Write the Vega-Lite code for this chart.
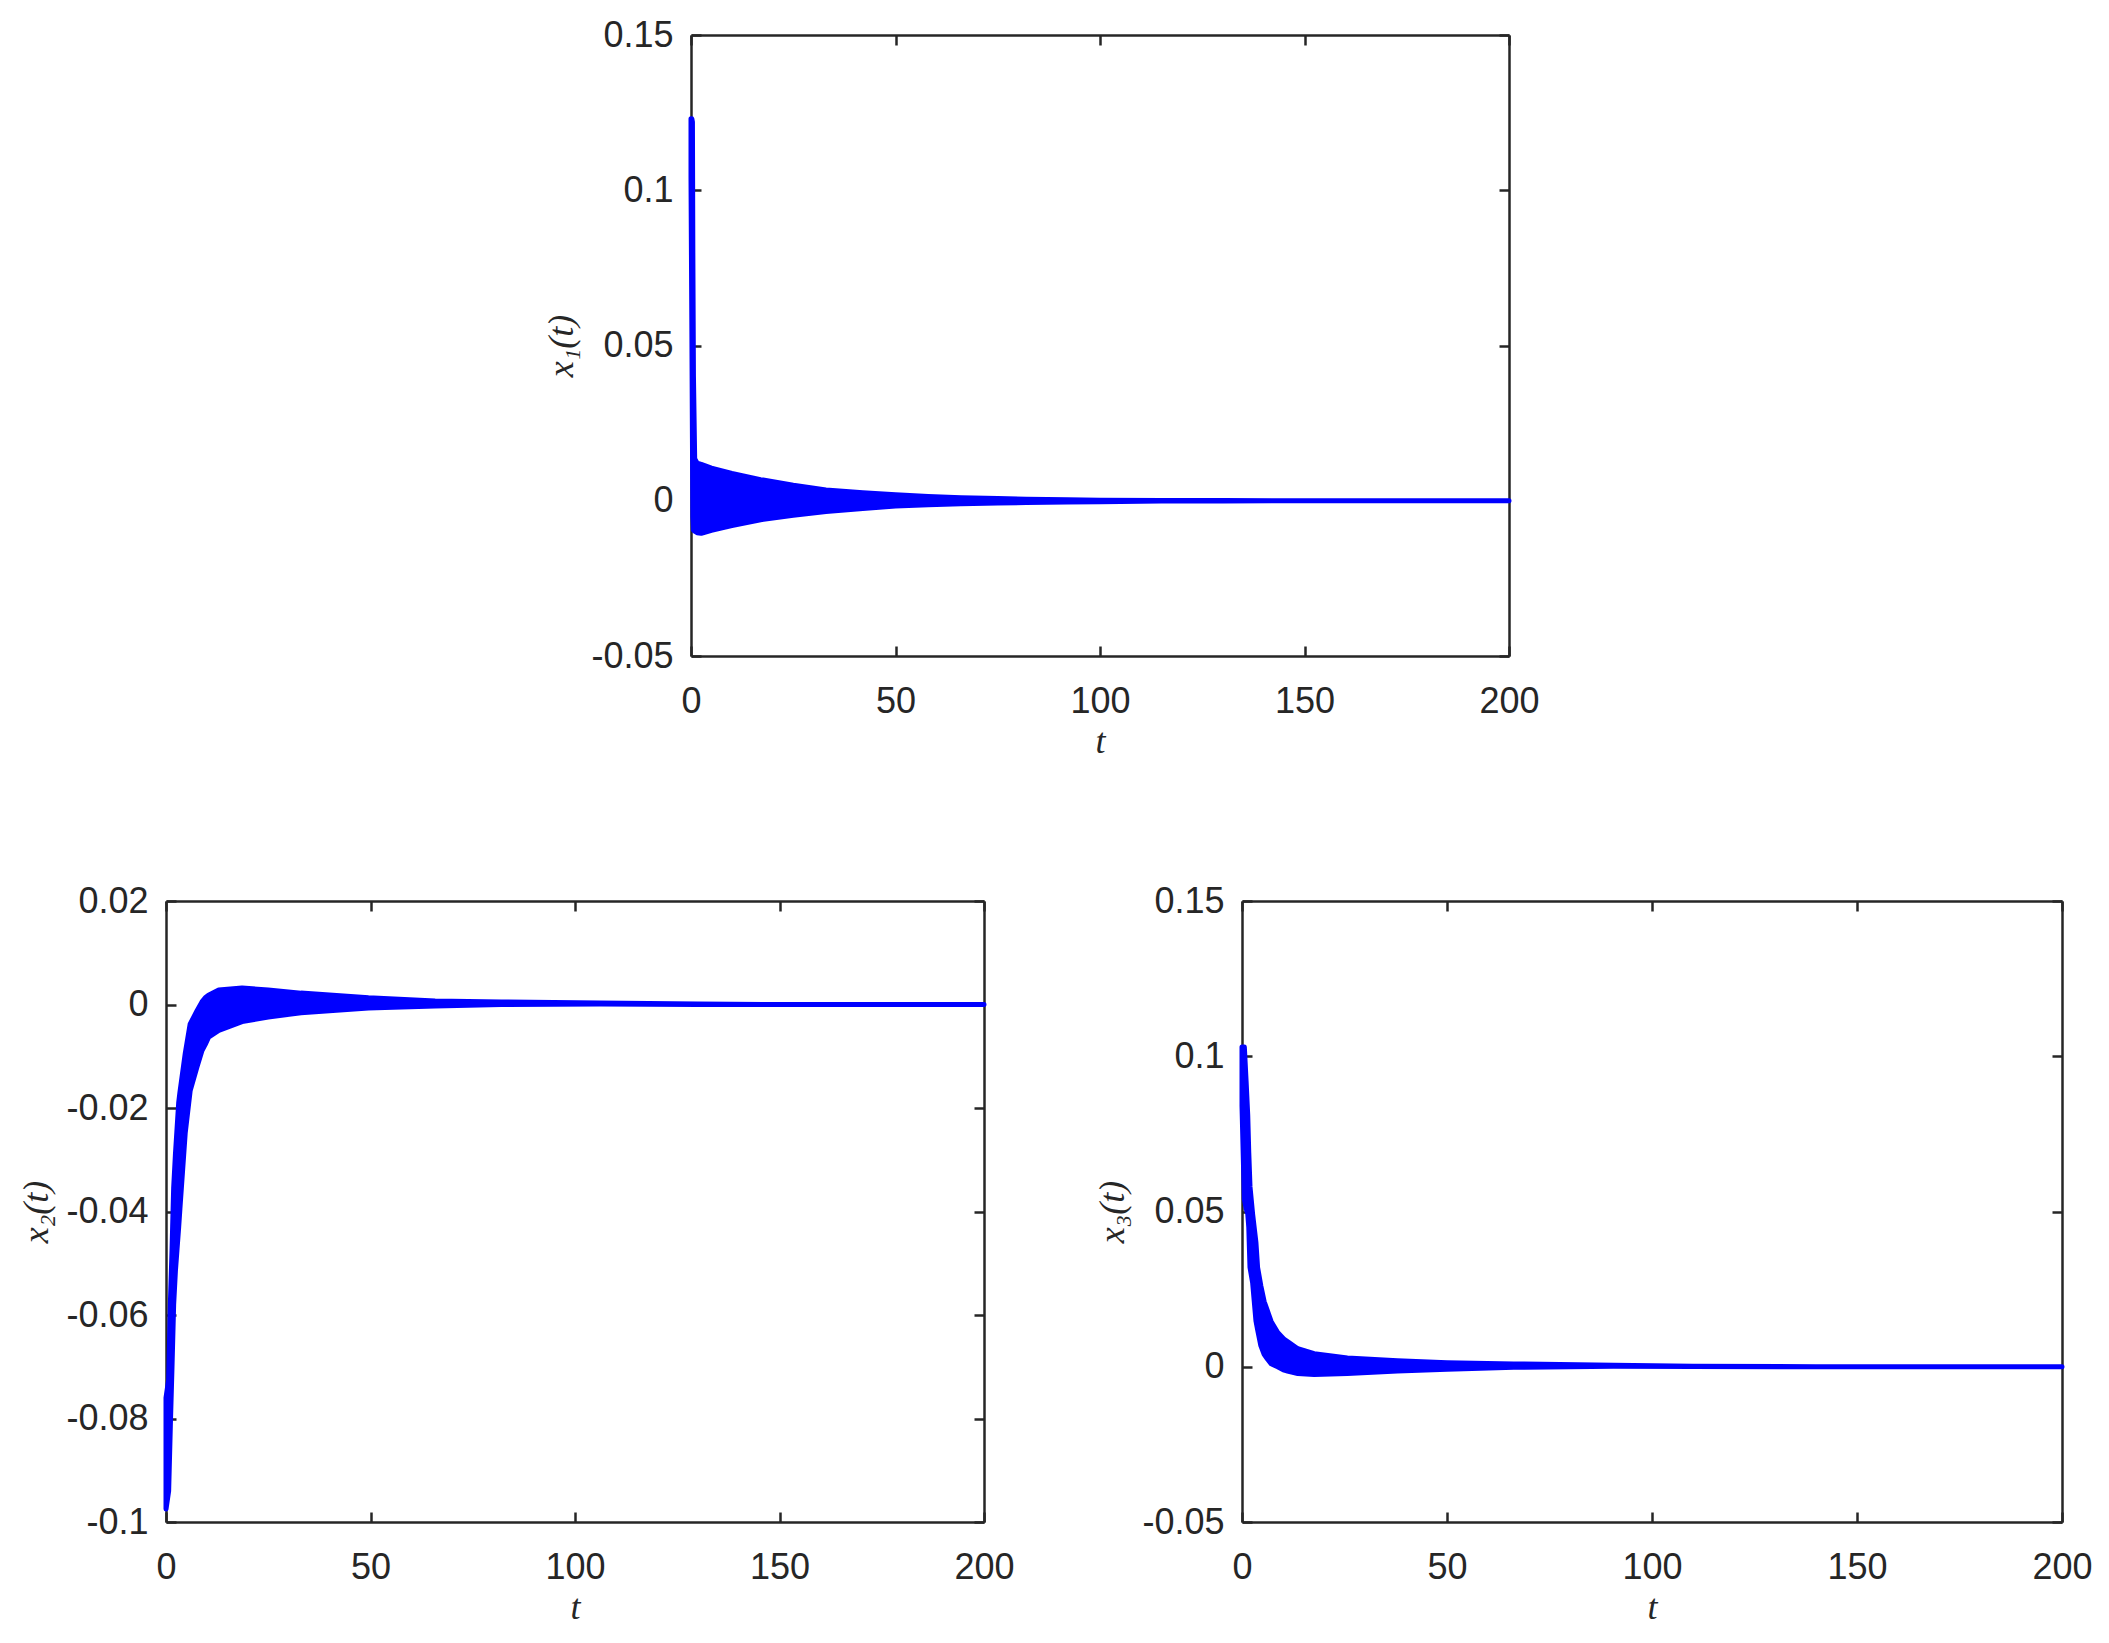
{
  "$schema": "https://vega.github.io/schema/vega-lite/v6.json",
  "background": "white",
  "padding": {"left": 18, "top": 17, "right": 0, "bottom": 0},
  "datasets": {
    "x1": [
      {"t": 0, "hi": 0.123, "lo": 0.104},
      {"t": 0.2, "hi": 0.123, "lo": 0.058},
      {"t": 0.35, "hi": 0.122, "lo": 0.02},
      {"t": 0.45, "hi": 0.08, "lo": -0.005},
      {"t": 0.6, "hi": 0.04, "lo": -0.0095},
      {"t": 0.9, "hi": 0.0135, "lo": -0.0098},
      {"t": 1.5, "hi": 0.0121, "lo": -0.0103},
      {"t": 2.5, "hi": 0.0117, "lo": -0.0105},
      {"t": 5, "hi": 0.0105, "lo": -0.0095},
      {"t": 10, "hi": 0.0088, "lo": -0.008},
      {"t": 17, "hi": 0.0068, "lo": -0.0061},
      {"t": 25, "hi": 0.005, "lo": -0.0047},
      {"t": 33, "hi": 0.0035, "lo": -0.0035},
      {"t": 42, "hi": 0.0026, "lo": -0.0025},
      {"t": 50, "hi": 0.0019, "lo": -0.0017},
      {"t": 58, "hi": 0.0014, "lo": -0.0013},
      {"t": 66, "hi": 0.001, "lo": -0.001},
      {"t": 75, "hi": 0.0007, "lo": -0.0007},
      {"t": 82, "hi": 0.0005, "lo": -0.0006},
      {"t": 92, "hi": 0.0003, "lo": -0.0004},
      {"t": 100, "hi": 0.0002, "lo": -0.0003},
      {"t": 115, "hi": 0.0001, "lo": -0.0001},
      {"t": 130, "hi": 0.00005, "lo": -0.00005},
      {"t": 150, "hi": 0, "lo": 0},
      {"t": 200, "hi": 0, "lo": 0}
    ],
    "x2": [
      {"t": 0, "hi": -0.076, "lo": -0.0975},
      {"t": 0.65, "hi": -0.0725, "lo": -0.094},
      {"t": 1.06, "hi": -0.058, "lo": -0.0815},
      {"t": 1.47, "hi": -0.0475, "lo": -0.07},
      {"t": 1.87, "hi": -0.0355, "lo": -0.058},
      {"t": 2.3, "hi": -0.029, "lo": -0.0515},
      {"t": 3.1, "hi": -0.019, "lo": -0.043},
      {"t": 3.4, "hi": -0.017, "lo": -0.0395},
      {"t": 4.7, "hi": -0.0095, "lo": -0.0248},
      {"t": 5.9, "hi": -0.0038, "lo": -0.0167},
      {"t": 7.6, "hi": -0.0012, "lo": -0.012},
      {"t": 8.8, "hi": 0.0005, "lo": -0.0089},
      {"t": 9.6, "hi": 0.0013, "lo": -0.0077},
      {"t": 10.4, "hi": 0.0018, "lo": -0.0063},
      {"t": 12.9, "hi": 0.0028, "lo": -0.005},
      {"t": 18.6, "hi": 0.0032, "lo": -0.0033},
      {"t": 25, "hi": 0.0028, "lo": -0.0024},
      {"t": 33, "hi": 0.0022, "lo": -0.0016},
      {"t": 49.5, "hi": 0.0013, "lo": -0.0007},
      {"t": 65.8, "hi": 0.0007, "lo": -0.0003},
      {"t": 82, "hi": 0.0005, "lo": 0},
      {"t": 106, "hi": 0.0003, "lo": 0.0001},
      {"t": 130, "hi": 0.0001, "lo": 0},
      {"t": 150, "hi": 0, "lo": 0},
      {"t": 200, "hi": 0, "lo": 0}
    ],
    "x3": [
      {"t": 0, "hi": 0.103, "lo": 0.084},
      {"t": 0.57, "hi": 0.103, "lo": 0.054},
      {"t": 1.0, "hi": 0.092, "lo": 0.051},
      {"t": 1.4, "hi": 0.081, "lo": 0.0493},
      {"t": 1.65, "hi": 0.069, "lo": 0.045},
      {"t": 1.95, "hi": 0.058, "lo": 0.032},
      {"t": 2.6, "hi": 0.049, "lo": 0.027},
      {"t": 3.4, "hi": 0.04, "lo": 0.0148},
      {"t": 3.8, "hi": 0.032, "lo": 0.012},
      {"t": 4.6, "hi": 0.026, "lo": 0.0068},
      {"t": 5.4, "hi": 0.021, "lo": 0.004},
      {"t": 6.2, "hi": 0.018, "lo": 0.0025},
      {"t": 7.1, "hi": 0.0146, "lo": 0.001},
      {"t": 8.7, "hi": 0.011, "lo": 0},
      {"t": 10.3, "hi": 0.0088, "lo": -0.0011},
      {"t": 11.1, "hi": 0.0081, "lo": -0.0014},
      {"t": 13.6, "hi": 0.0058, "lo": -0.0022},
      {"t": 17.6, "hi": 0.0042, "lo": -0.0025},
      {"t": 25.7, "hi": 0.0028, "lo": -0.0022},
      {"t": 37.9, "hi": 0.0019, "lo": -0.0014},
      {"t": 50, "hi": 0.0013, "lo": -0.0008},
      {"t": 66.3, "hi": 0.0009, "lo": -0.0002},
      {"t": 90.6, "hi": 0.0005, "lo": 0.0002},
      {"t": 110, "hi": 0.0002, "lo": 0.0001},
      {"t": 140, "hi": 0, "lo": 0},
      {"t": 200, "hi": 0, "lo": 0}
    ]
  },
  "spacing": 124,
  "vconcat": [
    {
      "bounds": "flush",
      "spacing": 0,
      "hconcat": [
        {"width": 525, "height": 1, "data": {"values": []}, "mark": "point"},
        {
          "width": 818, "height": 621,
          "data": {"name": "x1"},
          "layer": [
            {
              "mark": {"type": "area", "color": "#0000ff", "stroke": "#0000ff", "strokeWidth": 5, "strokeJoin": "round"},
              "encoding": {
                "x": {"field": "t", "type": "quantitative", "scale": {"domain": [0, 200], "nice": false, "zero": false}, "axis": {"orient": "bottom", "values": [0, 50, 100, 150, 200], "title": "t", "labelFlush": false}},
                "y": {"field": "hi", "type": "quantitative", "scale": {"domain": [-0.05, 0.15], "nice": false, "zero": false}, "axis": {"orient": "left", "values": [-0.05, 0, 0.05, 0.1, 0.15], "labelExpr": "'' + datum.value", "title": "x₁(t)"}},
                "y2": {"field": "lo"}
              }
            },
            {
              "mark": {"type": "area", "opacity": 0},
              "encoding": {
                "x": {"field": "t", "type": "quantitative", "axis": {"orient": "top", "values": [0, 50, 100, 150, 200], "labels": false, "title": null}},
                "y": {"field": "hi", "type": "quantitative", "axis": {"orient": "right", "values": [-0.05, 0, 0.05, 0.1, 0.15], "labels": false, "title": null}},
                "y2": {"field": "lo"}
              }
            }
          ],
          "resolve": {"axis": {"x": "independent", "y": "independent"}}
        }
      ]
    },
    {
      "bounds": "flush",
      "spacing": 258,
      "hconcat": [
        {
          "width": 818, "height": 621,
          "data": {"name": "x2"},
          "layer": [
            {
              "mark": {"type": "area", "color": "#0000ff", "stroke": "#0000ff", "strokeWidth": 5, "strokeJoin": "round"},
              "encoding": {
                "x": {"field": "t", "type": "quantitative", "scale": {"domain": [0, 200], "nice": false, "zero": false}, "axis": {"orient": "bottom", "values": [0, 50, 100, 150, 200], "title": "t", "labelFlush": false}},
                "y": {"field": "hi", "type": "quantitative", "scale": {"domain": [-0.1, 0.02], "nice": false, "zero": false}, "axis": {"orient": "left", "values": [-0.1, -0.08, -0.06, -0.04, -0.02, 0, 0.02], "labelExpr": "'' + datum.value", "title": "x₂(t)"}},
                "y2": {"field": "lo"}
              }
            },
            {
              "mark": {"type": "area", "opacity": 0},
              "encoding": {
                "x": {"field": "t", "type": "quantitative", "axis": {"orient": "top", "values": [0, 50, 100, 150, 200], "labels": false, "title": null}},
                "y": {"field": "hi", "type": "quantitative", "axis": {"orient": "right", "values": [-0.1, -0.08, -0.06, -0.04, -0.02, 0, 0.02], "labels": false, "title": null}},
                "y2": {"field": "lo"}
              }
            }
          ],
          "resolve": {"axis": {"x": "independent", "y": "independent"}}
        },
        {
          "width": 820, "height": 621,
          "data": {"name": "x3"},
          "layer": [
            {
              "mark": {"type": "area", "color": "#0000ff", "stroke": "#0000ff", "strokeWidth": 5, "strokeJoin": "round"},
              "encoding": {
                "x": {"field": "t", "type": "quantitative", "scale": {"domain": [0, 200], "nice": false, "zero": false}, "axis": {"orient": "bottom", "values": [0, 50, 100, 150, 200], "title": "t", "labelFlush": false}},
                "y": {"field": "hi", "type": "quantitative", "scale": {"domain": [-0.05, 0.15], "nice": false, "zero": false}, "axis": {"orient": "left", "values": [-0.05, 0, 0.05, 0.1, 0.15], "labelExpr": "'' + datum.value", "title": "x₃(t)"}},
                "y2": {"field": "lo"}
              }
            },
            {
              "mark": {"type": "area", "opacity": 0},
              "encoding": {
                "x": {"field": "t", "type": "quantitative", "axis": {"orient": "top", "values": [0, 50, 100, 150, 200], "labels": false, "title": null}},
                "y": {"field": "hi", "type": "quantitative", "axis": {"orient": "right", "values": [-0.05, 0, 0.05, 0.1, 0.15], "labels": false, "title": null}},
                "y2": {"field": "lo"}
              }
            }
          ],
          "resolve": {"axis": {"x": "independent", "y": "independent"}}
        }
      ]
    }
  ],
  "config": {
    "view": {"stroke": null},
    "axis": {
      "grid": false,
      "domainColor": "#262626",
      "domainWidth": 2.5,
      "tickColor": "#262626",
      "tickWidth": 2.5,
      "tickSize": -10,
      "labelFont": "Liberation Sans",
      "labelFontSize": 36,
      "labelColor": "#262626",
      "titleFont": "Liberation Serif",
      "titleFontStyle": "italic",
      "titleFontWeight": "normal",
      "titleFontSize": 36,
      "titleColor": "#262626"
    },
    "axisY": {"labelPadding": 28, "titlePadding": 10},
    "axisX": {"labelPadding": 38, "titlePadding": 5}
  }
}
